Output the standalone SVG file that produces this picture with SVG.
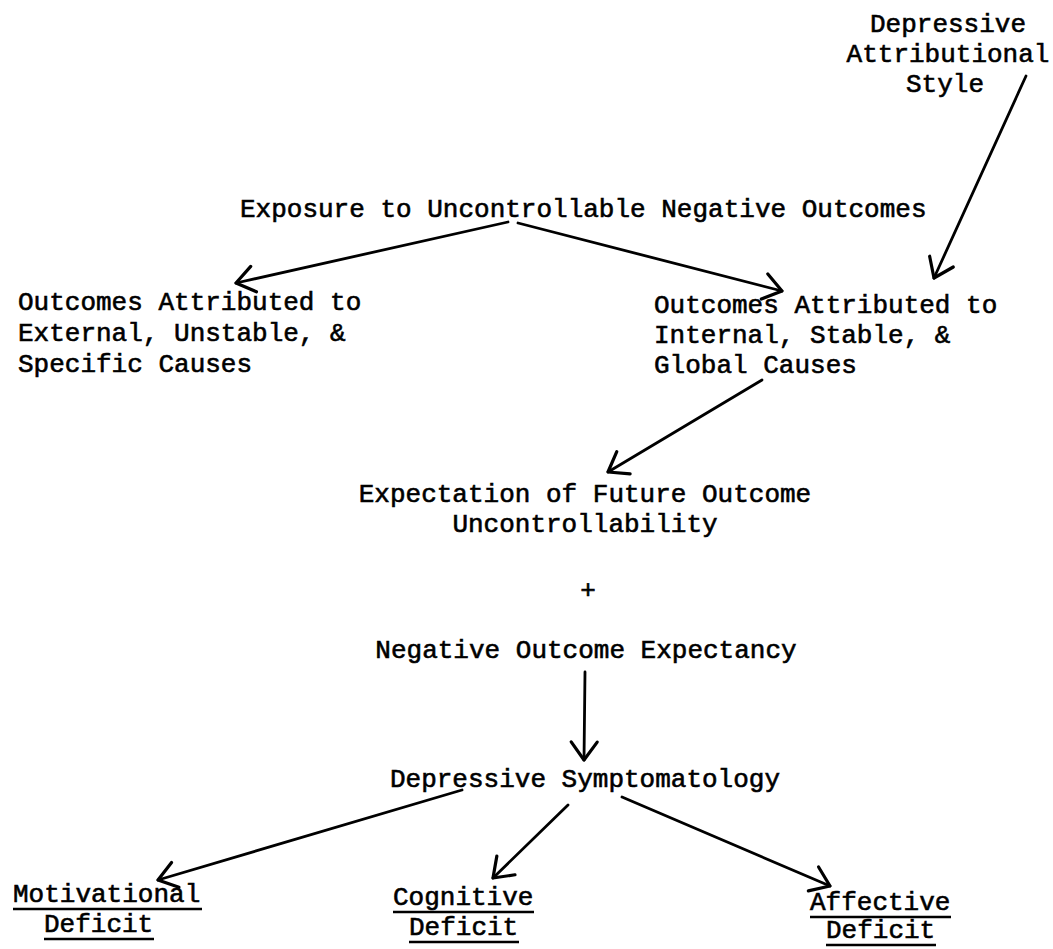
<svg xmlns="http://www.w3.org/2000/svg" width="1053" height="949" viewBox="0 0 1053 949">
<style>
  text { font-family: "Liberation Mono", "DejaVu Sans Mono", monospace; font-size: 26px; fill: #000; stroke: #000; stroke-width: 0.6; }
  .c { text-anchor: middle; }
  .conn line { stroke: #000; stroke-width: 2.8; stroke-linecap: round; marker-end: url(#v); }
  .ul { stroke: #000; stroke-width: 2.4; }
</style>
<defs>
  <marker id="v" markerUnits="userSpaceOnUse" markerWidth="40" markerHeight="40" refX="0" refY="0" orient="auto" overflow="visible">
    <path d="M -18 -13 L 0 0 L -18 13" fill="none" stroke="#000" stroke-width="3.2" stroke-linecap="round" stroke-linejoin="round"/>
  </marker>
</defs>
<rect width="1053" height="949" fill="#fff"/>

<g id="das">
  <text class="c" x="948" y="32">Depressive</text>
  <text class="c" x="948" y="62">Attributional</text>
  <text class="c" x="945" y="92">Style</text>
</g>
<g id="exposure">
  <text x="240" y="217">Exposure to Uncontrollable Negative Outcomes</text>
</g>
<g id="external">
  <text x="18" y="310">Outcomes Attributed to</text>
  <text x="18" y="341">External, Unstable, &amp;</text>
  <text x="18" y="372">Specific Causes</text>
</g>
<g id="internal">
  <text x="654" y="313">Outcomes Attributed to</text>
  <text x="654" y="343">Internal, Stable, &amp;</text>
  <text x="654" y="373">Global Causes</text>
</g>
<g id="expectation">
  <text class="c" x="585" y="502">Expectation of Future Outcome</text>
  <text class="c" x="585" y="532">Uncontrollability</text>
</g>
<g id="plus">
  <text class="c" x="588" y="598">+</text>
</g>
<g id="negative">
  <text class="c" x="586" y="658">Negative Outcome Expectancy</text>
</g>
<g id="symptomatology">
  <text class="c" x="585" y="787">Depressive Symptomatology</text>
</g>
<g id="motivational">
  <text x="13" y="902">Motivational</text>
  <line class="ul" x1="13" y1="909" x2="202" y2="909"/>
  <text x="44" y="932">Deficit</text>
  <line class="ul" x1="44" y1="939" x2="154" y2="939"/>
</g>
<g id="cognitive">
  <text x="393" y="905">Cognitive</text>
  <line class="ul" x1="393" y1="912" x2="534" y2="912"/>
  <text x="409" y="935">Deficit</text>
  <line class="ul" x1="409" y1="942" x2="519" y2="942"/>
</g>
<g id="affective">
  <text x="810" y="910">Affective</text>
  <line class="ul" x1="810" y1="917" x2="951" y2="917"/>
  <text x="826" y="938">Deficit</text>
  <line class="ul" x1="826" y1="945" x2="936" y2="945"/>
</g>

<g id="connectors" class="conn">
  <line x1="1026" y1="76" x2="934" y2="278"/>
  <line x1="508" y1="222" x2="236" y2="283"/>
  <line x1="518" y1="223" x2="782" y2="291"/>
  <line x1="762" y1="380" x2="608" y2="472"/>
  <line x1="585" y1="672" x2="584" y2="760"/>
  <line x1="462" y1="790" x2="158" y2="880"/>
  <line x1="568" y1="805" x2="493" y2="878"/>
  <line x1="622" y1="797" x2="830" y2="886"/>
</g>
</svg>
